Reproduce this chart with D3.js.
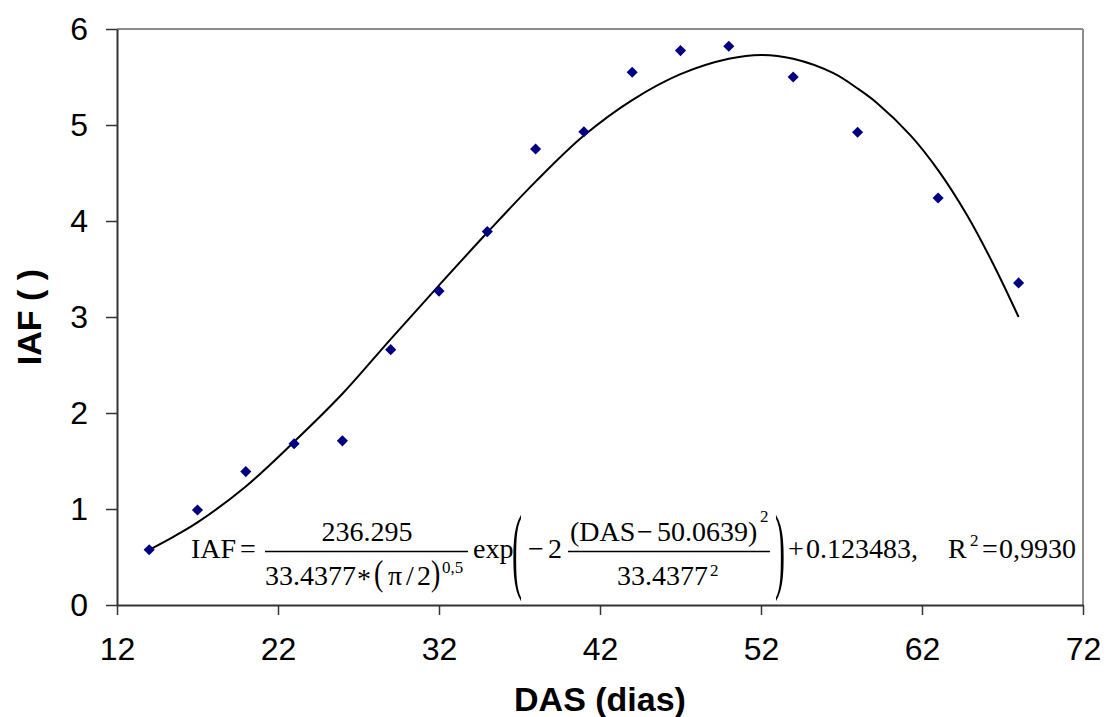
<!DOCTYPE html>
<html>
<head>
<meta charset="utf-8">
<script src="https://cdn.jsdelivr.net/npm/d3@7/dist/d3.min.js"></script>
<style>
  html, body { margin: 0; padding: 0; background: #fff; }
  svg { display: block; }
</style>
</head>
<body>
<svg id="chart" width="1106" height="717"></svg>
<script>
// ---- data ----
const dasObs = [14, 17, 20, 23, 26, 29, 32, 35, 38, 41, 44, 47, 50, 54, 58, 63, 68];
const iafObs = [0.575, 0.99, 1.39, 1.68, 1.71, 2.66, 3.27, 3.89, 4.75, 4.93, 5.55, 5.775, 5.82, 5.50, 4.925, 4.24, 3.355];

const dasFit = [14, 15.5, 17, 20, 23, 26, 29, 32, 35, 38, 41, 44, 47, 50, 52, 54, 56.5, 58, 59.2, 61.3, 63, 64.8, 66.4, 68];
const iafFit = [0.575, 0.71, 0.86, 1.235, 1.70, 2.20, 2.77, 3.33, 3.88, 4.41, 4.89, 5.26, 5.53, 5.69, 5.73, 5.69, 5.54, 5.38, 5.23, 4.89, 4.53, 4.06, 3.56, 3.00];

const xTicks = [12, 22, 32, 42, 52, 62, 72];
const yTicks = [0, 1, 2, 3, 4, 5, 6];
const xTitle = "DAS (dias)";
const yTitle = "IAF ( )";

// ---- layout ----
const svg = d3.select("#chart");
const pL = 117, pR = 1083, pT = 29, pB = 605;
const x = d3.scaleLinear().domain([12, 72]).range([pL, pR]);
const y = d3.scaleLinear().domain([0, 6]).range([pB, pT]);

const sans = "'Liberation Sans', Arial, sans-serif";
const serif = "'Liberation Serif', 'Times New Roman', serif";

// plot frame (top & right in gray)
svg.append("line").attr("x1", pL).attr("x2", pR).attr("y1", pT).attr("y2", pT)
  .attr("stroke", "#8c8c8c").attr("stroke-width", 2);
svg.append("line").attr("x1", pR).attr("x2", pR).attr("y1", pT).attr("y2", pB)
  .attr("stroke", "#8c8c8c").attr("stroke-width", 2);

// x axis
const xAxis = d3.axisBottom(x).tickValues(xTicks).tickFormat(d3.format("d"))
  .tickSize(10).tickSizeOuter(0).tickPadding(22);
const gx = svg.append("g").attr("transform", `translate(0,${pB})`).call(xAxis);
gx.select(".domain").attr("stroke", "#333").attr("stroke-width", 2);
gx.selectAll(".tick line").attr("stroke", "#333").attr("stroke-width", 1.5);
gx.selectAll(".tick text").attr("font-family", sans).attr("font-size", 32).attr("fill", "#000");

// y axis
const yAxis = d3.axisLeft(y).tickValues(yTicks).tickFormat(d3.format("d"))
  .tickSize(11).tickSizeOuter(0).tickPadding(18);
const gy = svg.append("g").attr("transform", `translate(${pL},0)`).call(yAxis);
gy.select(".domain").attr("stroke", "#333").attr("stroke-width", 2);
gy.selectAll(".tick line").attr("stroke", "#333").attr("stroke-width", 1.5);
gy.selectAll(".tick text").attr("font-family", sans).attr("font-size", 32).attr("fill", "#000");

// axis titles
svg.append("text").attr("x", (pL + pR) / 2).attr("y", 711)
  .attr("text-anchor", "middle").attr("font-family", sans).attr("font-weight", "bold")
  .attr("font-size", 34).text(xTitle);
svg.append("text").attr("transform", `translate(41,${(pT + pB) / 2}) rotate(-90)`)
  .attr("text-anchor", "middle").attr("font-family", sans).attr("font-weight", "bold")
  .attr("font-size", 34).text(yTitle);

// fitted curve
const fit = dasFit.map((d, i) => [d, iafFit[i]]);
svg.append("path").datum(fit)
  .attr("fill", "none").attr("stroke", "#000").attr("stroke-width", 2)
  .attr("d", d3.line().x(d => x(d[0])).y(d => y(d[1])).curve(d3.curveCatmullRom.alpha(0.5)));

// observed points (diamonds)
const obs = dasObs.map((d, i) => [d, iafObs[i]]);
svg.append("g").selectAll("path").data(obs).join("path")
  .attr("transform", d => `translate(${x(d[0])},${y(d[1])}) rotate(45)`)
  .attr("d", d3.symbol().type(d3.symbolSquare).size(62))
  .attr("fill", "#000080");

// ---- equation ----
const eq = svg.append("g").attr("font-family", serif).attr("fill", "#000");
const fs = 28;
function t(xp, yp, s, opts = {}) {
  const el = eq.append("text").attr("x", xp).attr("y", yp).attr("font-size", opts.size || fs).text(s);
  if (opts.anchor) el.attr("text-anchor", opts.anchor);
  if (opts.scaleY) el.attr("transform", `translate(${xp},${yp}) scale(1,${opts.scaleY}) translate(${-xp},${-yp})`);
  return el;
}
const base = 558;
t(191, base, "IAF");
t(240, base, "=");
// first fraction
eq.append("line").attr("x1", 265).attr("x2", 468).attr("y1", 551.5).attr("y2", 551.5).attr("stroke", "#000").attr("stroke-width", 1.3);
t(367, 540.5, "236.295", { anchor: "middle" });
t(265, 585, "33.4377");
t(357, 588, "*");
t(374, 585, "(", { size: 28, scaleY: 1.25 });
t(388, 585, "π");
t(406, 585, "/");
t(417, 585, "2");
t(431, 585, ")", { size: 28, scaleY: 1.25 });
t(442, 573, "0,5", { size: 17 });
t(473, base, "exp");
// big parentheses
t(512, 581, "(", { size: 30, scaleY: 3.2 });
t(775, 581, ")", { size: 30, scaleY: 3.2 });
t(528, base, "−");
t(548, base, "2");
// second fraction
eq.append("line").attr("x1", 568).attr("x2", 770).attr("y1", 551.5).attr("y2", 551.5).attr("stroke", "#000").attr("stroke-width", 1.3);
t(570, 540.5, "(DAS");
t(637, 540.5, "−");
t(657, 540.5, "50.0639)");
t(760, 522, "2", { size: 17 });
t(617, 585, "33.4377");
t(710, 576, "2", { size: 17 });
// tail
t(788, base, "+");
t(806, base, "0.123483,");
t(948, base, "R");
t(970, 546, "2", { size: 17 });
t(982, base, "=");
t(1076, base, "0,9930", { anchor: "end" });
</script>
</body>
</html>
